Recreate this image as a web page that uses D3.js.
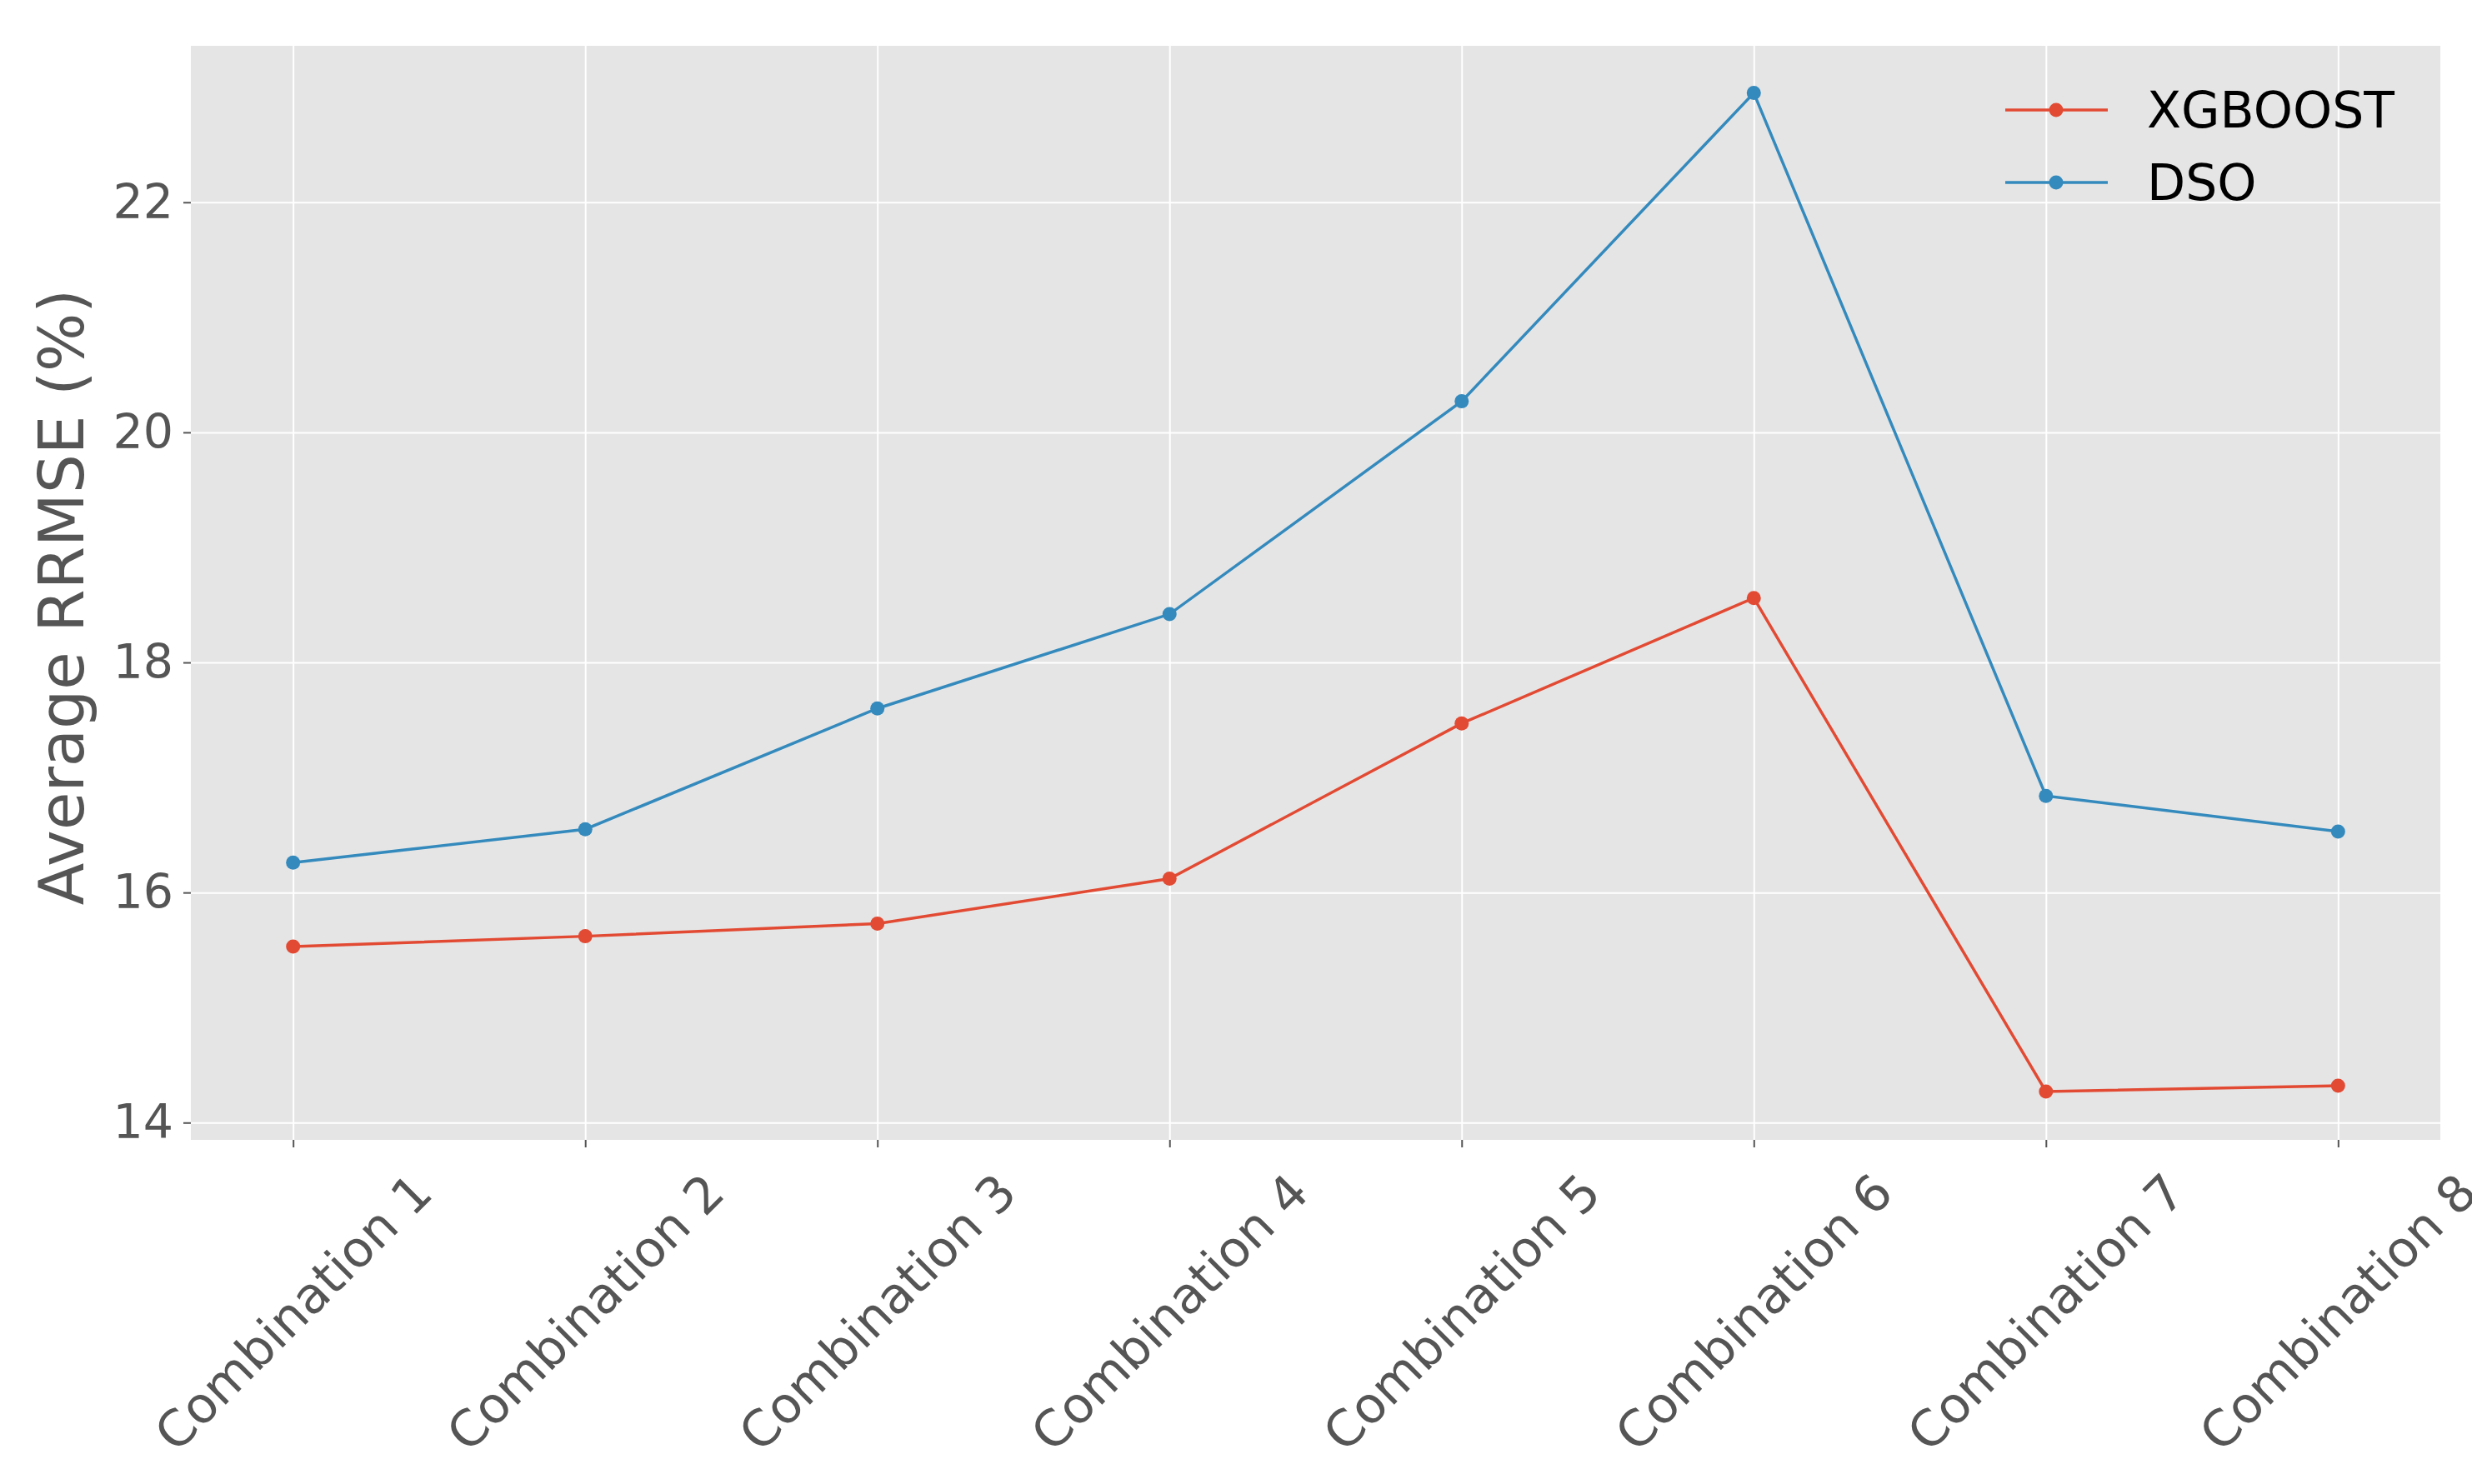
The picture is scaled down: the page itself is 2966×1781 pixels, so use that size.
<!DOCTYPE html>
<html>
<head>
<meta charset="UTF-8">
<script src="https://d3js.org/d3.v7.min.js"></script>
<style>
  body { margin: 0; background: white; }
  text { font-family: "DejaVu Sans", sans-serif; }
</style>
</head>
<body>
<svg id="chart" width="2966" height="1781"></svg>
<script>
// データ
const categories = ["Combination 1", "Combination 2", "Combination 3", "Combination 4",
                    "Combination 5", "Combination 6", "Combination 7", "Combination 8"];
const xgboost = [15.53, 15.62, 15.73, 16.12, 17.47, 18.56, 14.27, 14.32];
const dso = [16.26, 16.55, 17.60, 18.42, 20.27, 22.95, 16.84, 16.53];
const yTicks = [14, 16, 18, 20, 22];
const seriesNames = ["XGBOOST", "DSO"];
const colors = ["#E24A33", "#348ABD"];

const m = { left: 229, right: 2928, top: 55, bottom: 1368 };
const svg = d3.select("#chart");

const x = d3.scaleLinear().domain([-0.35, 7.35]).range([m.left, m.right]);
const y = d3.scaleLinear().domain([13.85, 23.36]).range([m.bottom, m.top]);

// 背景
svg.append("rect").attr("x", m.left).attr("y", m.top)
  .attr("width", m.right - m.left).attr("height", m.bottom - m.top)
  .attr("fill", "#E5E5E5");

// グリッド
svg.append("g").attr("transform", `translate(0,${m.bottom})`)
  .call(d3.axisBottom(x).tickValues(d3.range(8)).tickSize(-(m.bottom - m.top)).tickFormat(""))
  .call(g => g.select(".domain").remove())
  .call(g => g.selectAll("line").attr("stroke", "white").attr("stroke-width", 2));
svg.append("g").attr("transform", `translate(${m.left},0)`)
  .call(d3.axisLeft(y).tickValues(yTicks).tickSize(-(m.right - m.left)).tickFormat(""))
  .call(g => g.select(".domain").remove())
  .call(g => g.selectAll("line").attr("stroke", "white").attr("stroke-width", 2));

// 軸
const xAxis = svg.append("g").attr("transform", `translate(0,${m.bottom})`)
  .call(d3.axisBottom(x).tickValues(d3.range(8)).tickSize(9).tickFormat(""));
xAxis.select(".domain").remove();
xAxis.selectAll("line").attr("stroke", "#555").attr("stroke-width", 2);
// ラベルは目盛りの中心で45度回転
svg.selectAll(null).data(categories).enter().append("text")
  .attr("transform", (d, i) => `translate(${x(i)},1575) rotate(-45)`)
  .attr("text-anchor", "middle").attr("dy", "0.35em")
  .attr("font-size", 60).attr("fill", "#555")
  .text(d => d);

const yAxis = svg.append("g").attr("transform", `translate(${m.left},0)`)
  .call(d3.axisLeft(y).tickValues(yTicks).tickSize(9).tickPadding(12));
yAxis.select(".domain").remove();
yAxis.selectAll("line").attr("stroke", "#555").attr("stroke-width", 2);
yAxis.selectAll("text").attr("font-size", 57).attr("fill", "#555");

svg.append("text")
  .attr("transform", `translate(100,${(m.top + m.bottom) / 2 + 5}) rotate(-90)`)
  .attr("text-anchor", "middle").attr("font-size", 74).attr("fill", "#555")
  .text("Average RRMSE (%)");

// 線
const line = d3.line().x((d, i) => x(i)).y(d => y(d));
[xgboost, dso].forEach((vals, k) => {
  svg.append("path").datum(vals).attr("d", line)
    .attr("fill", "none").attr("stroke", colors[k]).attr("stroke-width", 3.5);
  svg.selectAll(null).data(vals).enter().append("circle")
    .attr("cx", (d, i) => x(i)).attr("cy", d => y(d)).attr("r", 8.5)
    .attr("fill", colors[k]);
});

// 凡例
seriesNames.forEach((name, k) => {
  const ly = 132 + k * 87;
  svg.append("line").attr("x1", 2406).attr("x2", 2529).attr("y1", ly).attr("y2", ly)
    .attr("stroke", colors[k]).attr("stroke-width", 3.5);
  svg.append("circle").attr("cx", 2467).attr("cy", ly).attr("r", 8.5).attr("fill", colors[k]);
  svg.append("text").attr("x", 2576).attr("y", ly).attr("dy", "0.35em")
    .attr("font-size", 60).attr("fill", "black").text(name);
});
</script>
</body>
</html>
